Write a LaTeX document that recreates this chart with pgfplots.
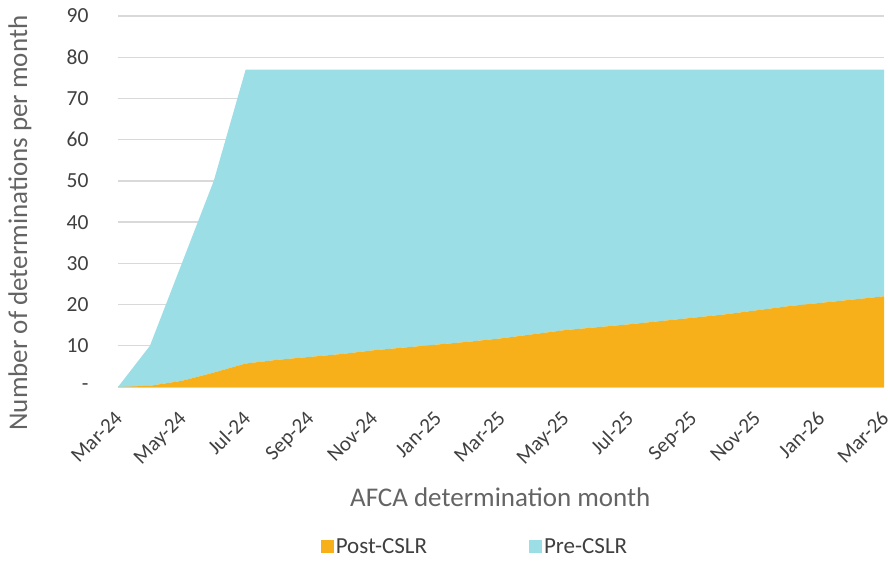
\documentclass[border=0pt]{standalone}
\usepackage{pgfplots}
\pgfplotsset{compat=1.18}
\usepackage{fontspec}
\setmainfont{Carlito}
\definecolor{postc}{RGB}{247,176,26}
\definecolor{prec}{RGB}{155,222,229}
\definecolor{gridc}{RGB}{217,217,217}
\definecolor{tickc}{RGB}{64,64,64}
\definecolor{labc}{RGB}{100,100,100}

\begin{document}
\begin{tikzpicture}
\begin{axis}[
    scale only axis,
    width=766pt, height=371pt,
    xmin=0, xmax=24,
    ymin=0, ymax=90,
    stack plots=y,
    axis line style={draw=none},
    tick style={draw=none},
    ymajorgrids,
    grid style={gridc, line width=1.3pt},
    ytick={0,10,...,90},
    yticklabels={-,10,20,30,40,50,60,70,80,90},
    xtick={0,2,...,24},
    xticklabels={Mar-24,May-24,Jul-24,Sep-24,Nov-24,Jan-25,Mar-25,May-25,Jul-25,Sep-25,Nov-25,Jan-26,Mar-26},
    x tick label style={rotate=45, anchor=north east, font=\fontsize{21}{24}\selectfont, text=tickc, inner sep=0pt, xshift=-19pt, yshift=-13pt},
    y tick label style={font=\fontsize{21.5}{24}\selectfont, text=tickc, xshift=-26pt},
    xlabel={AFCA determination month},
    ylabel={Number of determinations per month},
    label style={font=\fontsize{27}{30}\selectfont, text=labc},
    xlabel style={at={(axis description cs:0.499,-0.296)}, anchor=center},
    ylabel style={at={(axis description cs:-0.128,0.442)}, anchor=center},
    legend style={at={(axis description cs:0.466,-0.43)}, anchor=center, draw=none,
      font=\fontsize{23}{26}\selectfont, text=tickc, legend columns=2,
      /tikz/every even column/.append style={column sep=100pt}},
    legend image code/.code={\fill[#1] (0pt,-6.5pt) rectangle (13pt,6.5pt);},
]
\addplot[draw=none, fill=postc] coordinates {
(0,0) (1,0.3) (2,1.5) (3,3.5) (4,5.7) (5,6.6) (6,7.3) (7,8.0) (8,8.9) (9,9.6)
(10,10.3) (11,11.0) (12,11.8) (13,12.8) (14,13.8) (15,14.5) (16,15.2) (17,16.0)
(18,16.8) (19,17.6) (20,18.6) (21,19.6) (22,20.4) (23,21.2) (24,22.0)
} \closedcycle;
\addlegendentry{Post-CSLR}
\addplot[draw=none, fill=prec] coordinates {
(0,0) (1,9.7) (2,28.5) (3,46.5) (4,71.3) (5,70.4) (6,69.7) (7,69.0) (8,68.1) (9,67.4)
(10,66.7) (11,66.0) (12,65.2) (13,64.2) (14,63.2) (15,62.5) (16,61.8) (17,61.0)
(18,60.2) (19,59.4) (20,58.4) (21,57.4) (22,56.6) (23,55.8) (24,55.0)
} \closedcycle;
\addlegendentry{Pre-CSLR}
\end{axis}
\pgfresetboundingbox
\path[use as bounding box] (-118pt,-173pt) rectangle (770pt,387pt);
\end{tikzpicture}
\end{document}
